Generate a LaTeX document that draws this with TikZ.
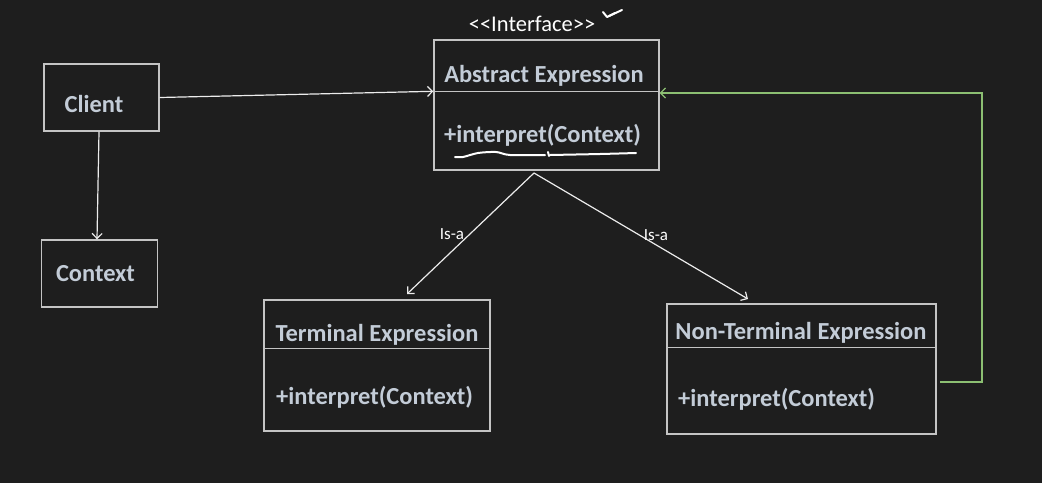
\documentclass[tikz,border=0pt]{standalone}
\usepackage{fontspec}
\setmainfont{Carlito}
\usetikzlibrary{arrows.meta}
\definecolor{bg}{HTML}{1E1E1E}
\definecolor{boxline}{HTML}{C4C4C4}
\definecolor{titletxt}{HTML}{C3CCD7}
\definecolor{wire}{HTML}{ECECEC}
\definecolor{greenwire}{HTML}{8CBF72}
\tikzset{
  umlbox/.style={draw=boxline, line width=1.4pt, rectangle, inner sep=0pt},
  bigtxt/.style={text=titletxt, inner sep=0pt, font=\fontsize{24.5}{28}\selectfont\bfseries},
  smalltxt/.style={text=white, inner sep=0pt, font=\fontsize{17}{20}\selectfont},
  divider/.style={draw=boxline, line width=1.4pt},
  wireline/.style={draw=wire, line width=1.2pt, -{Straight Barb[length=5pt,width=10pt]}},
  greenline/.style={draw=greenwire, line width=1.2pt, -{Straight Barb[length=5pt,width=10pt]}},
  scribble/.style={draw=white, line width=2pt, line cap=round, line join=round},
}
\begin{document}
\begin{tikzpicture}[x=1pt,y=-1pt]
\fill[bg] (0,0) rectangle (1042,483);
\useasboundingbox (0,0) rectangle (1042,483);

% boxes
\node[umlbox, minimum width=115pt, minimum height=67pt] (client) at (101.5,97.5) {};
\node[umlbox, minimum width=116pt, minimum height=67pt] (context) at (99.5,273.5) {};
\node[umlbox, minimum width=225pt, minimum height=130pt] (abs) at (546.5,105) {};
\node[umlbox, minimum width=226pt, minimum height=131pt] (term) at (377,365.5) {};
\node[umlbox, minimum width=269pt, minimum height=130pt] (nterm) at (801.5,369) {};

% dividers
\path (abs.north west) ++(0,52) coordinate (absL);
\path (abs.north east) ++(0,52) coordinate (absR);
\draw[divider] (absL) -- (absR);
\path (term.north west) ++(0,49) coordinate (termL);
\path (term.north east) ++(0,49) coordinate (termR);
\draw[divider] (termL) -- (termR);
\path (nterm.north west) ++(0,44) coordinate (ntL);
\path (nterm.north east) ++(0,44) coordinate (ntR);
\draw[divider] (ntL) -- (ntR);

% texts
\node[bigtxt] (clientT) at (94,104) {Client};
\node[bigtxt] (contextT) at (95.5,274) {Context};
\node[bigtxt] (absT) at (544,76) {Abstract Expression};
\node[bigtxt, anchor=west] (absM) at (444,135) {+interpret(Context)};
\node[bigtxt] (termT) at (377,335) {Terminal Expression};
\node[bigtxt, anchor=west] (termM) at (276,397) {+interpret(Context)};
\node[bigtxt] (ntT) at (801,333) {Non-Terminal Expression};
\node[bigtxt, anchor=west] (ntM) at (678,399) {+interpret(Context)};
\node[text=white, inner sep=0pt, font=\fontsize{22.5}{26}\selectfont] (iface) at (532,24) {<{}<Interface>{}>};

% connectors
\draw[wireline] (client.south -| 99,0) -- (context.north -| 97,0);
\draw[wireline] (client.east) -- (absL);
\coordinate (apex) at (534,173);
\coordinate (termTip) at (407,294);
\coordinate (ntTip) at (748,299);
\draw[wireline] (apex) -- (termTip);
\draw[wireline] (apex) -- (ntTip);
\node[smalltxt] (isa1) at (452,234) {Is-a};
\node[smalltxt] (isa2) at (656,235) {Is-a};

\coordinate (gstart) at (940,382);
\coordinate (gcorner) at (982,93);
\coordinate (gend) at (absR |- 0,93);
\draw[greenline] (gstart) -| (gcorner) -- (gend);

% scribbles
\draw[scribble] plot[smooth] coordinates {(455,157) (463,157) (478,153) (496,152) (510,155) (545,155)};
\draw[scribble] (548,152) -- (549,156);
\draw[scribble] plot[smooth] coordinates {(550,155) (600,154) (636,153)};
\draw[scribble] (603,12) -- (607,17) -- (615,13);
\draw[scribble] (609,16) -- (622,10);
\end{tikzpicture}
\end{document}
